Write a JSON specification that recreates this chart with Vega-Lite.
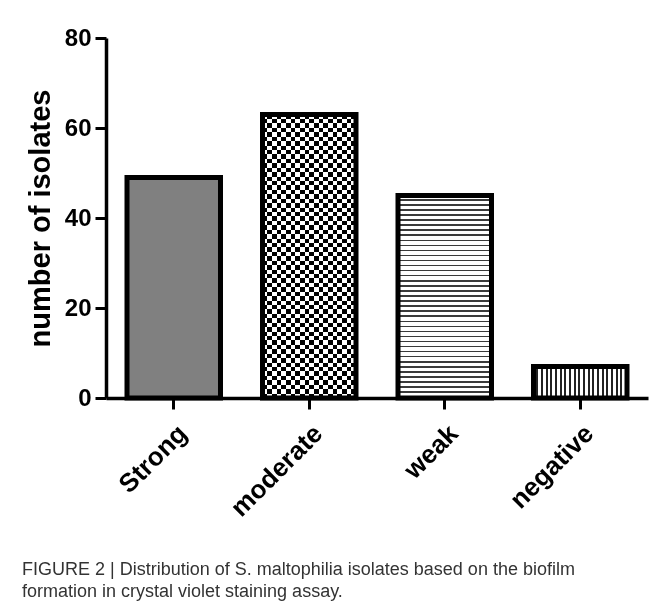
{
  "$schema": "https://vega.github.io/schema/vega-lite/v6.json",
  "width": 542,
  "height": 360,
  "autosize": "none",
  "padding": {"left": 106, "top": 38, "right": 7, "bottom": 208},
  "background": "white",
  "config": {"view": {"stroke": null}, "axis": {"grid": false}},
  "data": {"values": [
    {"category": "Strong", "isolates": 49},
    {"category": "moderate", "isolates": 63},
    {"category": "weak", "isolates": 45},
    {"category": "negative", "isolates": 7}
  ]},
  "title": {
    "text": ["FIGURE 2 | Distribution of S. maltophilia isolates based on the biofilm", "formation in crystal violet staining assay."],
    "orient": "bottom",
    "anchor": "start",
    "frame": "group",
    "font": "Liberation Sans",
    "fontSize": 18,
    "fontWeight": "normal",
    "color": "#333333",
    "lineHeight": 22,
    "dx": -84,
    "offset": 40
  },
  "encoding": {
    "x": {
      "field": "category", "type": "nominal",
      "sort": ["Strong", "moderate", "weak", "negative"],
      "scale": {"domain": ["Strong", "moderate", "weak", "negative"], "paddingInner": 0.31, "paddingOuter": 0.155},
      "axis": {
        "title": null, "labelAngle": -45, "labelFont": "Liberation Sans", "labelFontWeight": "bold",
        "labelFontSize": 26, "labelColor": "black", "labelPadding": 11,
        "domainColor": "black", "domainWidth": 3.5, "tickColor": "black", "tickWidth": 3, "tickSize": 11
      }
    },
    "y": {
      "field": "isolates", "type": "quantitative",
      "scale": {"domain": [0, 80], "nice": false},
      "axis": {
        "values": [0, 20, 40, 60, 80], "title": "number of isolates",
        "titleFont": "Liberation Sans", "titleFontWeight": "bold", "titleFontSize": 29, "titleColor": "black", "titlePadding": 9,
        "labelFont": "Liberation Sans", "labelFontWeight": "bold", "labelFontSize": 24, "labelColor": "black", "labelPadding": 4,
        "domainColor": "black", "domainWidth": 3.5, "tickColor": "black", "tickWidth": 3, "tickSize": 11
      }
    }
  },
  "layer": [
    {
      "transform": [{"filter": "datum.category === 'Strong'"}],
      "mark": {"type": "bar", "fill": "#808080"}
    },
    {
      "transform": [{"filter": "datum.category === 'moderate'"}],
      "mark": {"type": "bar", "fill": {"gradient": "linear", "x1": 0, "y1": 0, "x2": 0, "y2": 1, "stops": [
        {"offset": 0, "color": "#000"}, {"offset": 0.015625, "color": "#000"},
        {"offset": 0.015625, "color": "#fff"}, {"offset": 0.03125, "color": "#fff"},
        {"offset": 0.03125, "color": "#000"}, {"offset": 0.046875, "color": "#000"},
        {"offset": 0.046875, "color": "#fff"}, {"offset": 0.0625, "color": "#fff"},
        {"offset": 0.0625, "color": "#000"}, {"offset": 0.078125, "color": "#000"},
        {"offset": 0.078125, "color": "#fff"}, {"offset": 0.09375, "color": "#fff"},
        {"offset": 0.09375, "color": "#000"}, {"offset": 0.109375, "color": "#000"},
        {"offset": 0.109375, "color": "#fff"}, {"offset": 0.125, "color": "#fff"},
        {"offset": 0.125, "color": "#000"}, {"offset": 0.140625, "color": "#000"},
        {"offset": 0.140625, "color": "#fff"}, {"offset": 0.15625, "color": "#fff"},
        {"offset": 0.15625, "color": "#000"}, {"offset": 0.171875, "color": "#000"},
        {"offset": 0.171875, "color": "#fff"}, {"offset": 0.1875, "color": "#fff"},
        {"offset": 0.1875, "color": "#000"}, {"offset": 0.203125, "color": "#000"},
        {"offset": 0.203125, "color": "#fff"}, {"offset": 0.21875, "color": "#fff"},
        {"offset": 0.21875, "color": "#000"}, {"offset": 0.234375, "color": "#000"},
        {"offset": 0.234375, "color": "#fff"}, {"offset": 0.25, "color": "#fff"},
        {"offset": 0.25, "color": "#000"}, {"offset": 0.265625, "color": "#000"},
        {"offset": 0.265625, "color": "#fff"}, {"offset": 0.28125, "color": "#fff"},
        {"offset": 0.28125, "color": "#000"}, {"offset": 0.296875, "color": "#000"},
        {"offset": 0.296875, "color": "#fff"}, {"offset": 0.3125, "color": "#fff"},
        {"offset": 0.3125, "color": "#000"}, {"offset": 0.328125, "color": "#000"},
        {"offset": 0.328125, "color": "#fff"}, {"offset": 0.34375, "color": "#fff"},
        {"offset": 0.34375, "color": "#000"}, {"offset": 0.359375, "color": "#000"},
        {"offset": 0.359375, "color": "#fff"}, {"offset": 0.375, "color": "#fff"},
        {"offset": 0.375, "color": "#000"}, {"offset": 0.390625, "color": "#000"},
        {"offset": 0.390625, "color": "#fff"}, {"offset": 0.40625, "color": "#fff"},
        {"offset": 0.40625, "color": "#000"}, {"offset": 0.421875, "color": "#000"},
        {"offset": 0.421875, "color": "#fff"}, {"offset": 0.4375, "color": "#fff"},
        {"offset": 0.4375, "color": "#000"}, {"offset": 0.453125, "color": "#000"},
        {"offset": 0.453125, "color": "#fff"}, {"offset": 0.46875, "color": "#fff"},
        {"offset": 0.46875, "color": "#000"}, {"offset": 0.484375, "color": "#000"},
        {"offset": 0.484375, "color": "#fff"}, {"offset": 0.5, "color": "#fff"},
        {"offset": 0.5, "color": "#000"}, {"offset": 0.515625, "color": "#000"},
        {"offset": 0.515625, "color": "#fff"}, {"offset": 0.53125, "color": "#fff"},
        {"offset": 0.53125, "color": "#000"}, {"offset": 0.546875, "color": "#000"},
        {"offset": 0.546875, "color": "#fff"}, {"offset": 0.5625, "color": "#fff"},
        {"offset": 0.5625, "color": "#000"}, {"offset": 0.578125, "color": "#000"},
        {"offset": 0.578125, "color": "#fff"}, {"offset": 0.59375, "color": "#fff"},
        {"offset": 0.59375, "color": "#000"}, {"offset": 0.609375, "color": "#000"},
        {"offset": 0.609375, "color": "#fff"}, {"offset": 0.625, "color": "#fff"},
        {"offset": 0.625, "color": "#000"}, {"offset": 0.640625, "color": "#000"},
        {"offset": 0.640625, "color": "#fff"}, {"offset": 0.65625, "color": "#fff"},
        {"offset": 0.65625, "color": "#000"}, {"offset": 0.671875, "color": "#000"},
        {"offset": 0.671875, "color": "#fff"}, {"offset": 0.6875, "color": "#fff"},
        {"offset": 0.6875, "color": "#000"}, {"offset": 0.703125, "color": "#000"},
        {"offset": 0.703125, "color": "#fff"}, {"offset": 0.71875, "color": "#fff"},
        {"offset": 0.71875, "color": "#000"}, {"offset": 0.734375, "color": "#000"},
        {"offset": 0.734375, "color": "#fff"}, {"offset": 0.75, "color": "#fff"},
        {"offset": 0.75, "color": "#000"}, {"offset": 0.765625, "color": "#000"},
        {"offset": 0.765625, "color": "#fff"}, {"offset": 0.78125, "color": "#fff"},
        {"offset": 0.78125, "color": "#000"}, {"offset": 0.796875, "color": "#000"},
        {"offset": 0.796875, "color": "#fff"}, {"offset": 0.8125, "color": "#fff"},
        {"offset": 0.8125, "color": "#000"}, {"offset": 0.828125, "color": "#000"},
        {"offset": 0.828125, "color": "#fff"}, {"offset": 0.84375, "color": "#fff"},
        {"offset": 0.84375, "color": "#000"}, {"offset": 0.859375, "color": "#000"},
        {"offset": 0.859375, "color": "#fff"}, {"offset": 0.875, "color": "#fff"},
        {"offset": 0.875, "color": "#000"}, {"offset": 0.890625, "color": "#000"},
        {"offset": 0.890625, "color": "#fff"}, {"offset": 0.90625, "color": "#fff"},
        {"offset": 0.90625, "color": "#000"}, {"offset": 0.921875, "color": "#000"},
        {"offset": 0.921875, "color": "#fff"}, {"offset": 0.9375, "color": "#fff"},
        {"offset": 0.9375, "color": "#000"}, {"offset": 0.953125, "color": "#000"},
        {"offset": 0.953125, "color": "#fff"}, {"offset": 0.96875, "color": "#fff"},
        {"offset": 0.96875, "color": "#000"}, {"offset": 0.984375, "color": "#000"},
        {"offset": 0.984375, "color": "#fff"}, {"offset": 1, "color": "#fff"}
      ]}}
    },
    {
      "transform": [{"filter": "datum.category === 'moderate'"}],
      "mark": {"type": "bar", "blend": "difference", "fill": {"gradient": "linear", "x1": 0, "y1": 0, "x2": 1, "y2": 0, "stops": [
        {"offset": 0, "color": "#fff"}, {"offset": 0.05, "color": "#fff"},
        {"offset": 0.05, "color": "#000"}, {"offset": 0.1, "color": "#000"},
        {"offset": 0.1, "color": "#fff"}, {"offset": 0.15, "color": "#fff"},
        {"offset": 0.15, "color": "#000"}, {"offset": 0.2, "color": "#000"},
        {"offset": 0.2, "color": "#fff"}, {"offset": 0.25, "color": "#fff"},
        {"offset": 0.25, "color": "#000"}, {"offset": 0.3, "color": "#000"},
        {"offset": 0.3, "color": "#fff"}, {"offset": 0.35, "color": "#fff"},
        {"offset": 0.35, "color": "#000"}, {"offset": 0.4, "color": "#000"},
        {"offset": 0.4, "color": "#fff"}, {"offset": 0.45, "color": "#fff"},
        {"offset": 0.45, "color": "#000"}, {"offset": 0.5, "color": "#000"},
        {"offset": 0.5, "color": "#fff"}, {"offset": 0.55, "color": "#fff"},
        {"offset": 0.55, "color": "#000"}, {"offset": 0.6, "color": "#000"},
        {"offset": 0.6, "color": "#fff"}, {"offset": 0.65, "color": "#fff"},
        {"offset": 0.65, "color": "#000"}, {"offset": 0.7, "color": "#000"},
        {"offset": 0.7, "color": "#fff"}, {"offset": 0.75, "color": "#fff"},
        {"offset": 0.75, "color": "#000"}, {"offset": 0.8, "color": "#000"},
        {"offset": 0.8, "color": "#fff"}, {"offset": 0.85, "color": "#fff"},
        {"offset": 0.85, "color": "#000"}, {"offset": 0.9, "color": "#000"},
        {"offset": 0.9, "color": "#fff"}, {"offset": 0.95, "color": "#fff"},
        {"offset": 0.95, "color": "#000"}, {"offset": 1, "color": "#000"}
      ]}}
    },
    {
      "transform": [{"filter": "datum.category === 'weak'"}],
      "mark": {"type": "bar", "fill": {"gradient": "linear", "x1": 0, "y1": 0, "x2": 0, "y2": 1, "stops": [
        {"offset": 0, "color": "#fff"}, {"offset": 0.0175, "color": "#fff"}, {"offset": 0.0175, "color": "#3a3a3a"}, {"offset": 0.025, "color": "#3a3a3a"},
        {"offset": 0.025, "color": "#fff"}, {"offset": 0.0425, "color": "#fff"}, {"offset": 0.0425, "color": "#3a3a3a"}, {"offset": 0.05, "color": "#3a3a3a"},
        {"offset": 0.05, "color": "#fff"}, {"offset": 0.0675, "color": "#fff"}, {"offset": 0.0675, "color": "#3a3a3a"}, {"offset": 0.075, "color": "#3a3a3a"},
        {"offset": 0.075, "color": "#fff"}, {"offset": 0.0925, "color": "#fff"}, {"offset": 0.0925, "color": "#3a3a3a"}, {"offset": 0.1, "color": "#3a3a3a"},
        {"offset": 0.1, "color": "#fff"}, {"offset": 0.1175, "color": "#fff"}, {"offset": 0.1175, "color": "#3a3a3a"}, {"offset": 0.125, "color": "#3a3a3a"},
        {"offset": 0.125, "color": "#fff"}, {"offset": 0.1425, "color": "#fff"}, {"offset": 0.1425, "color": "#3a3a3a"}, {"offset": 0.15, "color": "#3a3a3a"},
        {"offset": 0.15, "color": "#fff"}, {"offset": 0.1675, "color": "#fff"}, {"offset": 0.1675, "color": "#3a3a3a"}, {"offset": 0.175, "color": "#3a3a3a"},
        {"offset": 0.175, "color": "#fff"}, {"offset": 0.1925, "color": "#fff"}, {"offset": 0.1925, "color": "#3a3a3a"}, {"offset": 0.2, "color": "#3a3a3a"},
        {"offset": 0.2, "color": "#fff"}, {"offset": 0.2175, "color": "#fff"}, {"offset": 0.2175, "color": "#3a3a3a"}, {"offset": 0.225, "color": "#3a3a3a"},
        {"offset": 0.225, "color": "#fff"}, {"offset": 0.2425, "color": "#fff"}, {"offset": 0.2425, "color": "#3a3a3a"}, {"offset": 0.25, "color": "#3a3a3a"},
        {"offset": 0.25, "color": "#fff"}, {"offset": 0.2675, "color": "#fff"}, {"offset": 0.2675, "color": "#3a3a3a"}, {"offset": 0.275, "color": "#3a3a3a"},
        {"offset": 0.275, "color": "#fff"}, {"offset": 0.2925, "color": "#fff"}, {"offset": 0.2925, "color": "#3a3a3a"}, {"offset": 0.3, "color": "#3a3a3a"},
        {"offset": 0.3, "color": "#fff"}, {"offset": 0.3175, "color": "#fff"}, {"offset": 0.3175, "color": "#3a3a3a"}, {"offset": 0.325, "color": "#3a3a3a"},
        {"offset": 0.325, "color": "#fff"}, {"offset": 0.3425, "color": "#fff"}, {"offset": 0.3425, "color": "#3a3a3a"}, {"offset": 0.35, "color": "#3a3a3a"},
        {"offset": 0.35, "color": "#fff"}, {"offset": 0.3675, "color": "#fff"}, {"offset": 0.3675, "color": "#3a3a3a"}, {"offset": 0.375, "color": "#3a3a3a"},
        {"offset": 0.375, "color": "#fff"}, {"offset": 0.3925, "color": "#fff"}, {"offset": 0.3925, "color": "#3a3a3a"}, {"offset": 0.4, "color": "#3a3a3a"},
        {"offset": 0.4, "color": "#fff"}, {"offset": 0.4175, "color": "#fff"}, {"offset": 0.4175, "color": "#3a3a3a"}, {"offset": 0.425, "color": "#3a3a3a"},
        {"offset": 0.425, "color": "#fff"}, {"offset": 0.4425, "color": "#fff"}, {"offset": 0.4425, "color": "#3a3a3a"}, {"offset": 0.45, "color": "#3a3a3a"},
        {"offset": 0.45, "color": "#fff"}, {"offset": 0.4675, "color": "#fff"}, {"offset": 0.4675, "color": "#3a3a3a"}, {"offset": 0.475, "color": "#3a3a3a"},
        {"offset": 0.475, "color": "#fff"}, {"offset": 0.4925, "color": "#fff"}, {"offset": 0.4925, "color": "#3a3a3a"}, {"offset": 0.5, "color": "#3a3a3a"},
        {"offset": 0.5, "color": "#fff"}, {"offset": 0.5175, "color": "#fff"}, {"offset": 0.5175, "color": "#3a3a3a"}, {"offset": 0.525, "color": "#3a3a3a"},
        {"offset": 0.525, "color": "#fff"}, {"offset": 0.5425, "color": "#fff"}, {"offset": 0.5425, "color": "#3a3a3a"}, {"offset": 0.55, "color": "#3a3a3a"},
        {"offset": 0.55, "color": "#fff"}, {"offset": 0.5675, "color": "#fff"}, {"offset": 0.5675, "color": "#3a3a3a"}, {"offset": 0.575, "color": "#3a3a3a"},
        {"offset": 0.575, "color": "#fff"}, {"offset": 0.5925, "color": "#fff"}, {"offset": 0.5925, "color": "#3a3a3a"}, {"offset": 0.6, "color": "#3a3a3a"},
        {"offset": 0.6, "color": "#fff"}, {"offset": 0.6175, "color": "#fff"}, {"offset": 0.6175, "color": "#3a3a3a"}, {"offset": 0.625, "color": "#3a3a3a"},
        {"offset": 0.625, "color": "#fff"}, {"offset": 0.6425, "color": "#fff"}, {"offset": 0.6425, "color": "#3a3a3a"}, {"offset": 0.65, "color": "#3a3a3a"},
        {"offset": 0.65, "color": "#fff"}, {"offset": 0.6675, "color": "#fff"}, {"offset": 0.6675, "color": "#3a3a3a"}, {"offset": 0.675, "color": "#3a3a3a"},
        {"offset": 0.675, "color": "#fff"}, {"offset": 0.6925, "color": "#fff"}, {"offset": 0.6925, "color": "#3a3a3a"}, {"offset": 0.7, "color": "#3a3a3a"},
        {"offset": 0.7, "color": "#fff"}, {"offset": 0.7175, "color": "#fff"}, {"offset": 0.7175, "color": "#3a3a3a"}, {"offset": 0.725, "color": "#3a3a3a"},
        {"offset": 0.725, "color": "#fff"}, {"offset": 0.7425, "color": "#fff"}, {"offset": 0.7425, "color": "#3a3a3a"}, {"offset": 0.75, "color": "#3a3a3a"},
        {"offset": 0.75, "color": "#fff"}, {"offset": 0.7675, "color": "#fff"}, {"offset": 0.7675, "color": "#3a3a3a"}, {"offset": 0.775, "color": "#3a3a3a"},
        {"offset": 0.775, "color": "#fff"}, {"offset": 0.7925, "color": "#fff"}, {"offset": 0.7925, "color": "#3a3a3a"}, {"offset": 0.8, "color": "#3a3a3a"},
        {"offset": 0.8, "color": "#fff"}, {"offset": 0.8175, "color": "#fff"}, {"offset": 0.8175, "color": "#3a3a3a"}, {"offset": 0.825, "color": "#3a3a3a"},
        {"offset": 0.825, "color": "#fff"}, {"offset": 0.8425, "color": "#fff"}, {"offset": 0.8425, "color": "#3a3a3a"}, {"offset": 0.85, "color": "#3a3a3a"},
        {"offset": 0.85, "color": "#fff"}, {"offset": 0.8675, "color": "#fff"}, {"offset": 0.8675, "color": "#3a3a3a"}, {"offset": 0.875, "color": "#3a3a3a"},
        {"offset": 0.875, "color": "#fff"}, {"offset": 0.8925, "color": "#fff"}, {"offset": 0.8925, "color": "#3a3a3a"}, {"offset": 0.9, "color": "#3a3a3a"},
        {"offset": 0.9, "color": "#fff"}, {"offset": 0.9175, "color": "#fff"}, {"offset": 0.9175, "color": "#3a3a3a"}, {"offset": 0.925, "color": "#3a3a3a"},
        {"offset": 0.925, "color": "#fff"}, {"offset": 0.9425, "color": "#fff"}, {"offset": 0.9425, "color": "#3a3a3a"}, {"offset": 0.95, "color": "#3a3a3a"},
        {"offset": 0.95, "color": "#fff"}, {"offset": 0.9675, "color": "#fff"}, {"offset": 0.9675, "color": "#3a3a3a"}, {"offset": 0.975, "color": "#3a3a3a"},
        {"offset": 0.975, "color": "#fff"}, {"offset": 0.9925, "color": "#fff"}, {"offset": 0.9925, "color": "#3a3a3a"}, {"offset": 1, "color": "#3a3a3a"}
      ]}}
    },
    {
      "transform": [{"filter": "datum.category === 'negative'"}],
      "mark": {"type": "bar", "fill": {"gradient": "linear", "x1": 0, "y1": 0, "x2": 1, "y2": 0, "stops": [
        {"offset": 0, "color": "#fff"}, {"offset": 0.03, "color": "#fff"}, {"offset": 0.03, "color": "#222"}, {"offset": 0.05, "color": "#222"},
        {"offset": 0.05, "color": "#fff"}, {"offset": 0.08, "color": "#fff"}, {"offset": 0.08, "color": "#222"}, {"offset": 0.1, "color": "#222"},
        {"offset": 0.1, "color": "#fff"}, {"offset": 0.13, "color": "#fff"}, {"offset": 0.13, "color": "#222"}, {"offset": 0.15, "color": "#222"},
        {"offset": 0.15, "color": "#fff"}, {"offset": 0.18, "color": "#fff"}, {"offset": 0.18, "color": "#222"}, {"offset": 0.2, "color": "#222"},
        {"offset": 0.2, "color": "#fff"}, {"offset": 0.23, "color": "#fff"}, {"offset": 0.23, "color": "#222"}, {"offset": 0.25, "color": "#222"},
        {"offset": 0.25, "color": "#fff"}, {"offset": 0.28, "color": "#fff"}, {"offset": 0.28, "color": "#222"}, {"offset": 0.3, "color": "#222"},
        {"offset": 0.3, "color": "#fff"}, {"offset": 0.33, "color": "#fff"}, {"offset": 0.33, "color": "#222"}, {"offset": 0.35, "color": "#222"},
        {"offset": 0.35, "color": "#fff"}, {"offset": 0.38, "color": "#fff"}, {"offset": 0.38, "color": "#222"}, {"offset": 0.4, "color": "#222"},
        {"offset": 0.4, "color": "#fff"}, {"offset": 0.43, "color": "#fff"}, {"offset": 0.43, "color": "#222"}, {"offset": 0.45, "color": "#222"},
        {"offset": 0.45, "color": "#fff"}, {"offset": 0.48, "color": "#fff"}, {"offset": 0.48, "color": "#222"}, {"offset": 0.5, "color": "#222"},
        {"offset": 0.5, "color": "#fff"}, {"offset": 0.53, "color": "#fff"}, {"offset": 0.53, "color": "#222"}, {"offset": 0.55, "color": "#222"},
        {"offset": 0.55, "color": "#fff"}, {"offset": 0.58, "color": "#fff"}, {"offset": 0.58, "color": "#222"}, {"offset": 0.6, "color": "#222"},
        {"offset": 0.6, "color": "#fff"}, {"offset": 0.63, "color": "#fff"}, {"offset": 0.63, "color": "#222"}, {"offset": 0.65, "color": "#222"},
        {"offset": 0.65, "color": "#fff"}, {"offset": 0.68, "color": "#fff"}, {"offset": 0.68, "color": "#222"}, {"offset": 0.7, "color": "#222"},
        {"offset": 0.7, "color": "#fff"}, {"offset": 0.73, "color": "#fff"}, {"offset": 0.73, "color": "#222"}, {"offset": 0.75, "color": "#222"},
        {"offset": 0.75, "color": "#fff"}, {"offset": 0.78, "color": "#fff"}, {"offset": 0.78, "color": "#222"}, {"offset": 0.8, "color": "#222"},
        {"offset": 0.8, "color": "#fff"}, {"offset": 0.83, "color": "#fff"}, {"offset": 0.83, "color": "#222"}, {"offset": 0.85, "color": "#222"},
        {"offset": 0.85, "color": "#fff"}, {"offset": 0.88, "color": "#fff"}, {"offset": 0.88, "color": "#222"}, {"offset": 0.9, "color": "#222"},
        {"offset": 0.9, "color": "#fff"}, {"offset": 0.93, "color": "#fff"}, {"offset": 0.93, "color": "#222"}, {"offset": 0.95, "color": "#222"},
        {"offset": 0.95, "color": "#fff"}, {"offset": 0.98, "color": "#fff"}, {"offset": 0.98, "color": "#222"}, {"offset": 1, "color": "#222"}
      ]}}
    },
    {
      "mark": {"type": "bar", "filled": false, "stroke": "black", "strokeWidth": 5}
    }
  ]
}
